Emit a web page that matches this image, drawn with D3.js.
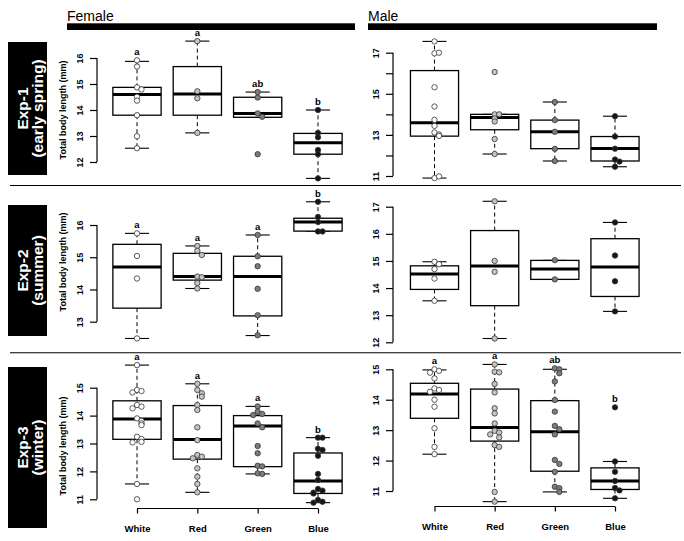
<!DOCTYPE html>
<html>
<head>
<meta charset="utf-8">
<script src="https://cdn.jsdelivr.net/npm/d3@7"></script>
<style>
  body { margin: 0; background: #fff; }
  svg { font-family: "Liberation Sans", Arial, sans-serif; }
</style>
</head>
<body>
<svg id="chart" width="684" height="541"></svg>
<script>
// categories (light colour of the treatment)
const colours = ["White", "Red", "Green", "Blue"];
const experiments = ["Exp-1", "Exp-2", "Exp-3"];
const seasons = ["(early spring)", "(summer)", "(winter)"];

// box stats per colour: [lower whisker, Q1, median, Q3, upper whisker]
// individual points per colour (total body length, mm)

// Exp-1 female
const exp1FemalePts = [
  [15.91, 15.67, 14.87, 14.79, 14.51, 14.36, 13.8, 12.99, 12.53],
  [16.65, 14.72, 14.45, 13.12],
  [14.69, 14.48, 13.87, 13.74, 12.3],
  [14.0, 13.12, 12.95, 12.46, 12.3, 11.37]
];
const exp1FemaleBox = [
  [12.53, 13.8, 14.6, 14.87, 15.87],
  [13.12, 13.8, 14.62, 15.67, 16.65],
  [13.72, 13.72, 13.87, 14.49, 14.69],
  [11.37, 12.3, 12.74, 13.1, 14.0]
];
const exp1FemaleLetters = ["a", "a", "ab", "b"];

// Exp-1 male
const exp1MalePts = [
  [17.55, 16.97, 17.0, 15.32, 14.38, 13.73, 13.44, 13.12, 13.02, 12.95, 10.9, 10.98],
  [16.06, 14.0, 14.0, 13.8, 13.65, 12.8, 12.07],
  [14.6, 13.72, 13.15, 12.32, 11.73],
  [13.91, 12.92, 12.33, 11.8, 11.7, 11.45]
];
const exp1MaleBox = [
  [10.9, 12.94, 13.59, 16.13, 17.55],
  [12.07, 13.25, 13.85, 14.0, 14.0],
  [11.73, 12.33, 13.15, 13.72, 14.6],
  [11.45, 11.73, 12.34, 12.92, 13.91]
];
const exp1MaleLetters = ["", "", "", ""];

// Exp-2 female
const exp2FemalePts = [
  [15.74, 15.04, 14.34, 12.48],
  [15.35, 15.2, 15.07, 14.4, 14.38, 14.2, 14.03],
  [15.69, 15.03, 14.72, 14.02, 13.2, 12.58],
  [16.72, 16.25, 16.09, 15.8, 15.8]
];
const exp2FemaleBox = [
  [12.48, 13.42, 14.7, 15.4, 15.74],
  [14.03, 14.29, 14.4, 15.12, 15.35],
  [12.57, 13.18, 14.4, 15.03, 15.69],
  [15.81, 15.81, 16.09, 16.21, 16.72]
];
const exp2FemaleLetters = ["a", "a", "a", "b"];

// Exp-2 male
const exp2MalePts = [
  [14.97, 14.88, 14.7, 14.35, 13.53],
  [17.2, 15.0, 14.6, 12.14],
  [15.03, 14.32],
  [16.42, 15.2, 14.25, 13.14]
];
const exp2MaleBox = [
  [13.53, 13.95, 14.52, 14.82, 14.97],
  [12.14, 13.35, 14.81, 16.12, 17.2],
  [14.32, 14.32, 14.7, 15.02, 15.02],
  [13.14, 13.69, 14.78, 15.82, 16.42]
];
const exp2MaleLetters = ["", "", "", ""];

// Exp-3 female
const exp3FemalePts = [
  [15.81, 14.92, 14.88, 14.83, 14.38, 14.32, 14.26, 13.9, 13.81, 13.72, 13.66, 13.24, 13.16, 13.06, 13.04, 11.55, 11.0],
  [15.14, 14.92, 14.8, 14.68, 14.38, 14.2, 13.58, 13.12, 12.59, 12.53, 12.47, 12.11, 11.81, 11.55, 11.25],
  [14.33, 14.14, 14.06, 14.02, 13.72, 13.58, 12.91, 12.65, 12.2, 12.18, 11.93, 11.91],
  [13.21, 13.21, 12.81, 12.77, 12.56, 11.91, 11.69, 11.37, 11.31, 11.24, 11.21, 10.98, 10.91, 10.88]
];
const exp3FemaleBox = [
  [11.55, 13.15, 13.88, 14.53, 15.81],
  [11.25, 12.44, 13.14, 14.36, 15.14],
  [11.91, 12.17, 13.63, 14.0, 14.33],
  [10.88, 11.21, 11.66, 12.66, 13.21]
];
const exp3FemaleLetters = ["a", "a", "a", "b"];

// Exp-3 male
const exp3MalePts = [
  [15.0, 14.95, 14.89, 14.7, 14.37, 14.32, 14.26, 14.0, 13.77, 13.06, 12.45, 12.21],
  [15.16, 14.92, 14.9, 14.52, 14.24, 13.72, 13.55, 13.22, 12.98, 12.92, 12.86, 12.76, 12.51, 12.45, 10.97, 10.65],
  [15.03, 15.0, 14.87, 14.6, 13.99, 13.61, 13.14, 13.03, 12.86, 12.02, 11.89, 11.63, 11.14, 11.09, 10.97],
  [13.75, 11.97, 11.63, 11.33, 11.1, 11.02, 10.76]
];
const exp3MaleBox = [
  [12.21, 13.39, 14.19, 14.54, 14.98],
  [10.65, 12.64, 13.09, 14.35, 15.16],
  [10.97, 11.65, 12.95, 13.97, 15.0],
  [10.76, 11.05, 11.33, 11.76, 11.97]
];
const exp3MaleLetters = ["a", "a", "ab", "b"];

// y tick values per panel, and which of them get a label
const ticksF1 = [12, 13, 14, 15, 16];
const ticksM1 = [11, 12, 13, 14, 15, 16, 17];
const labelsM1 = [11, 13, 15, 17];
const ticksF2 = [13, 14, 15, 16];
const ticksM2 = [12, 13, 14, 15, 16, 17];
const ticksF3 = [11, 12, 13, 14, 15];
const ticksM3 = [11, 12, 13, 14, 15];

// point fill per colour
const pointFill = ["#ffffff", "#c4c4c4", "#7c7c7c", "#151515"];

const svg = d3.select("#chart");

const femaleX = d3.scaleLinear().domain([1, 4]).range([137, 318]);
const maleX = d3.scaleLinear().domain([1, 4]).range([434.5, 615]);

const panels = [
  { x: femaleX, axisX: 97, dom: [12, 16], rng: [162, 58], ticks: ticksF1, labels: ticksF1,
    pts: exp1FemalePts, box: exp1FemaleBox, letters: exp1FemaleLetters, female: true, ylabY: 110 },
  { x: maleX, axisX: 393, dom: [11, 17], rng: [176, 52.7], ticks: ticksM1, labels: labelsM1,
    pts: exp1MalePts, box: exp1MaleBox, letters: exp1MaleLetters },
  { x: femaleX, axisX: 97, dom: [13, 16], rng: [321.7, 225], ticks: ticksF2, labels: ticksF2,
    pts: exp2FemalePts, box: exp2FemaleBox, letters: exp2FemaleLetters, female: true, ylabY: 262 },
  { x: maleX, axisX: 393, dom: [12, 17], rng: [342.3, 206.7], ticks: ticksM2, labels: ticksM2,
    pts: exp2MalePts, box: exp2MaleBox, letters: exp2MaleLetters },
  { x: femaleX, axisX: 97, dom: [11, 15], rng: [499.3, 387.7], ticks: ticksF3, labels: ticksF3,
    pts: exp3FemalePts, box: exp3FemaleBox, letters: exp3FemaleLetters, female: true, ylabY: 446,
    xAxisY: 508.5 },
  { x: maleX, axisX: 393, dom: [11, 15], rng: [491, 369.3], ticks: ticksM3, labels: ticksM3,
    pts: exp3MalePts, box: exp3MaleBox, letters: exp3MaleLetters, xAxisY: 506.5 }
];

// header: sex labels with thick bars
svg.append("text").attr("x", 67).attr("y", 20.5).attr("font-size", 14).text("Female");
svg.append("rect").attr("x", 67).attr("y", 23.3).attr("width", 288).attr("height", 6.7).attr("fill", "#000");
svg.append("text").attr("x", 368).attr("y", 20.5).attr("font-size", 14).text("Male");
svg.append("rect").attr("x", 368).attr("y", 23.3).attr("width", 289).attr("height", 6.7).attr("fill", "#000");

// row separators
[185.5, 352.7].forEach(y => {
  svg.append("line").attr("x1", 10).attr("x2", 681).attr("y1", y).attr("y2", y)
    .attr("stroke", "#000").attr("stroke-width", 1.1);
});

// row labels in black boxes
const rowBoxes = [[42, 175], [205, 336], [367, 528]];
rowBoxes.forEach((b, i) => {
  svg.append("rect").attr("x", 8).attr("y", b[0]).attr("width", 39).attr("height", b[1] - b[0])
    .attr("fill", "#000");
  const cy = (b[0] + b[1]) / 2;
  svg.append("text").attr("transform", `translate(27.5,${cy}) rotate(-90)`)
    .attr("text-anchor", "middle").attr("fill", "#fff").attr("font-weight", "bold")
    .attr("font-size", 15.5).text(experiments[i]);
  svg.append("text").attr("transform", `translate(42.5,${cy}) rotate(-90)`)
    .attr("text-anchor", "middle").attr("fill", "#fff").attr("font-weight", "bold")
    .attr("font-size", 15.5).text(seasons[i]);
});

function drawPanel(p) {
  const y = d3.scaleLinear().domain(p.dom).range(p.rng);
  const x = p.x;
  const half = 0.4 * (x(2) - x(1));
  const g = svg.append("g");

  // y axis, labels rotated like R's default
  const ax = g.append("g").attr("transform", `translate(${p.axisX},0)`)
    .call(d3.axisLeft(y).tickValues(p.ticks).tickSize(7)
      .tickFormat(d => p.labels.includes(d) ? d : ""));
  ax.select(".domain").attr("d", `M0,${y(p.ticks[0])}V${y(p.ticks[p.ticks.length - 1])}`)
    .attr("stroke-width", 1.2);
  ax.selectAll(".tick line").attr("stroke-width", 1.2);
  ax.selectAll(".tick text")
    .attr("transform", "rotate(-90)").attr("x", 0).attr("y", -14).attr("dy", 0)
    .attr("text-anchor", "middle").attr("font-size", 9).attr("font-weight", "bold")
    .attr("font-family", "Liberation Sans, Arial, sans-serif").attr("fill", "#000");

  if (p.female) {
    g.append("text").attr("transform", `translate(66,${p.ylabY}) rotate(-90)`)
      .attr("text-anchor", "middle").attr("font-size", 9).attr("font-weight", "bold")
      .text("Total body length (mm)");
  }

  p.box.forEach((b, i) => {
    const cx = x(i + 1);
    // whiskers
    g.append("line").attr("x1", cx).attr("x2", cx).attr("y1", y(b[3])).attr("y2", y(b[4]))
      .attr("stroke", "#000").attr("stroke-dasharray", "4,3");
    g.append("line").attr("x1", cx).attr("x2", cx).attr("y1", y(b[1])).attr("y2", y(b[0]))
      .attr("stroke", "#000").attr("stroke-dasharray", "4,3");
    [b[0], b[4]].forEach(v => {
      g.append("line").attr("x1", cx - half / 2).attr("x2", cx + half / 2)
        .attr("y1", y(v)).attr("y2", y(v)).attr("stroke", "#000").attr("stroke-width", 1.1);
    });
    // box and median
    g.append("rect").attr("x", cx - half).attr("width", 2 * half)
      .attr("y", y(b[3])).attr("height", y(b[1]) - y(b[3]))
      .attr("fill", "#fff").attr("stroke", "#000").attr("stroke-width", 1.3);
    g.append("line").attr("x1", cx - half).attr("x2", cx + half)
      .attr("y1", y(b[2])).attr("y2", y(b[2])).attr("stroke", "#000").attr("stroke-width", 3);
  });

  p.pts.forEach((vals, i) => {
    const cx = x(i + 1);
    vals.forEach((v, j) => {
      // spread points that sit on almost the same value
      const k = vals.slice(0, j).filter(w => Math.abs(w - v) < 0.15).length;
      const dx = k === 0 ? 0 : (k % 2 ? 1 : -1) * Math.ceil(k / 2) * 4.5;
      g.append("circle").attr("cx", cx + dx).attr("cy", y(v)).attr("r", 2.7)
        .attr("fill", pointFill[i]).attr("stroke", "#333").attr("stroke-width", 0.8);
    });
    const top = d3.max(vals.concat([p.box[i][4]]));
    if (p.letters[i]) {
      g.append("text").attr("x", cx).attr("y", y(top) - 5)
        .attr("text-anchor", "middle").attr("font-size", 9.5).attr("font-weight", "bold")
        .text(p.letters[i]);
    }
  });

  if (p.xAxisY) {
    const xa = g.append("g").attr("transform", `translate(0,${p.xAxisY})`)
      .call(d3.axisBottom(x).tickValues([1, 2, 3, 4]).tickSize(5).tickSizeOuter(0)
        .tickFormat(d => colours[d - 1]));
    xa.select(".domain").attr("d", `M${x(1)},0H${x(4)}`).attr("stroke-width", 1.2);
    xa.selectAll(".tick line").attr("y2", 5).attr("stroke-width", 1.2);
    xa.selectAll(".tick text").attr("y", 23).attr("dy", 0).attr("font-size", 9.5)
      .attr("font-weight", "bold").attr("font-family", "Liberation Sans, Arial, sans-serif")
      .attr("fill", "#000");
  }
}

panels.forEach(drawPanel);
</script>
</body>
</html>
